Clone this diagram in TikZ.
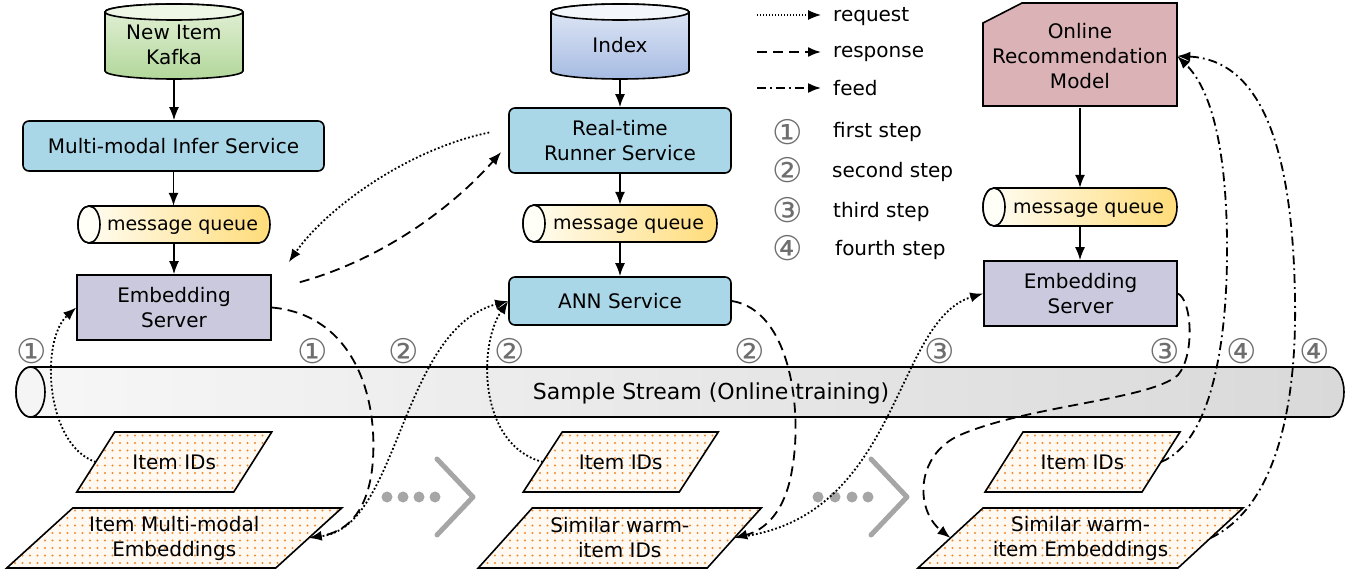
\documentclass[tikz,border=0pt]{standalone}
\usepackage{fontspec}
\setmainfont{DejaVu Sans}
\usetikzlibrary{arrows.meta,patterns.meta,calc}
\definecolor{kafkalid}{HTML}{EEF6E6}
\definecolor{kafkatop}{HTML}{E4F1D8}
\definecolor{kafkabot}{HTML}{B2D79A}
\definecolor{indexlid}{HTML}{F3F6FB}
\definecolor{indextop}{HTML}{E2E9F6}
\definecolor{indexbot}{HTML}{A6BBE2}
\definecolor{boxblue}{HTML}{AAD7E7}
\definecolor{lavender}{HTML}{CBC9DE}
\definecolor{recpink}{HTML}{DBB2B5}
\definecolor{mqleft}{HTML}{FFFEF7}
\definecolor{mqright}{HTML}{FFDC7A}
\definecolor{ssleft}{HTML}{F7F7F7}
\definecolor{ssright}{HTML}{D9D9D9}
\definecolor{sslid}{HTML}{F5F5F5}
\definecolor{paperbg}{HTML}{FFF9F2}
\definecolor{dotorange}{HTML}{F28A2E}
\definecolor{chevgray}{HTML}{A6A6A6}
\definecolor{numgray}{HTML}{6E6E6E}
% vertical cylinder: x1 x2 ytop ybot ry lidcolor topcolor bottomcolor
\newcommand\myvcyl[8]{%
  \pgfmathsetmacro\mycylcx{(#1+#2)/2}%
  \pgfmathsetmacro\mycylrx{(#2-#1)/2}%
  \path[top color=#7,bottom color=#8,draw,line width=1.6pt]
    (#1,#3+#5) -- (#1,#4-#5) arc[start angle=180,end angle=0,x radius=\mycylrx,y radius=#5]
    -- (#2,#3+#5) arc[start angle=0,end angle=-180,x radius=\mycylrx,y radius=#5] -- cycle;
  \draw[line width=1.6pt,fill=#6] (\mycylcx,#3+#5) ellipse[x radius=\mycylrx,y radius=#5];}
% horizontal cylinder: x1 x2 ytop ybot rx lidcolor leftcolor rightcolor
\newcommand\myhcyl[8]{%
  \pgfmathsetmacro\mycylcy{(#3+#4)/2}%
  \pgfmathsetmacro\mycylry{(#4-#3)/2}%
  \path[left color=#7,right color=#8,draw,line width=1.6pt]
    (#1+#5,#3) -- (#2-#5,#3) arc[start angle=-90,end angle=90,x radius=#5,y radius=\mycylry]
    -- (#1+#5,#4) arc[start angle=90,end angle=270,x radius=#5,y radius=\mycylry] -- cycle;
  \draw[line width=1.6pt,fill=#6] (#1+#5,\mycylcy) ellipse[x radius=#5,y radius=\mycylry];}
% parallelogram: name cx cy halfwidth halfskew text
\newcommand\mypara[6]{%
  \fill[paperbg] (#2-#4+#5,#3-30) -- (#2+#4+#5,#3-30) -- (#2+#4-#5,#3+30) -- (#2-#4-#5,#3+30) -- cycle;
  \path[pattern={Dots[distance=7.5pt,radius=1.1pt]},pattern color=dotorange]
    (#2-#4+#5,#3-30) -- (#2+#4+#5,#3-30) -- (#2+#4-#5,#3+30) -- (#2-#4-#5,#3+30) -- cycle;
  \draw[line width=1.6pt] (#2-#4+#5,#3-30) -- (#2+#4+#5,#3-30) -- (#2+#4-#5,#3+30) -- (#2-#4-#5,#3+30) -- cycle;
  \node (#1) at (#2,#3) {#6};
  \coordinate (#1-w) at (#2-#4,#3);
  \coordinate (#1-e) at (#2+#4,#3);}
\begin{document}
\begin{tikzpicture}[x=1pt,y=-1pt,
  every node/.style={font=\fontsize{20}{25}\selectfont, align=center, inner sep=0pt},
  svc/.style={draw, line width=1.6pt, rounded corners=6pt, fill=boxblue},
  embbox/.style={draw, line width=1.6pt, fill=lavender},
  mqtext/.style={font=\fontsize{19}{22}\selectfont, text height=14pt, text depth=2pt},
  tip/.style={-{Latex[length=13pt,width=10pt]}},
  flow/.style={line width=1.6pt, tip},
  req/.style={line width=1.8pt, dash pattern=on 1.8pt off 2.2pt, tip},
  resp/.style={line width=1.8pt, dash pattern=on 10pt off 6pt, tip},
  feed/.style={line width=1.8pt, dash pattern=on 9pt off 4pt on 1.8pt off 4pt},
  stepnum/.style={font=\fontsize{34}{34}\selectfont, text=numgray},
  legtext/.style={anchor=base west},
  chev/.style={draw=chevgray, line width=5pt, line cap=round, line join=round},
]
\useasboundingbox (0,0) rectangle (1364,578);

% ---------- cylinders ----------
\myvcyl{105}{243}{4}{79}{8}{kafkalid}{kafkatop}{kafkabot}
\node (kafka) [minimum width=138pt, minimum height=68pt] at (174,45) {\rule{0pt}{6pt}New Item\\Kafka};
\myvcyl{551}{689}{4}{79}{8}{indexlid}{indextop}{indexbot}
\node (index) [minimum width=138pt, minimum height=68pt] at (620,45) {\rule{0pt}{6pt}Index};

\myhcyl{78}{270}{206}{243}{11}{mqleft}{mqleft}{mqright}
\node (mq1) [mqtext, minimum width=192pt, minimum height=37pt] at (174,224.5) {\hspace*{17pt}message queue};
\myhcyl{523}{717}{205}{242}{11}{mqleft}{mqleft}{mqright}
\node (mq2) [mqtext, minimum width=194pt, minimum height=37pt] at (620,223.5) {\hspace*{17pt}message queue};
\myhcyl{983}{1177}{188}{226}{11}{mqleft}{mqleft}{mqright}
\node (mq3) [mqtext, minimum width=194pt, minimum height=38pt] at (1080,207) {\hspace*{17pt}message queue};

\myhcyl{16}{1344}{367}{417}{14.5}{sslid}{ssleft}{ssright}
\node (ss) [font=\fontsize{22}{26}\selectfont] at (711,393) {Sample Stream (Online training)};

% ---------- boxes ----------
\node[svc, minimum width=301pt, minimum height=50pt] (mm) at (173.5,146) {Multi-modal Infer Service};
\node[embbox, minimum width=194pt, minimum height=65pt] (emb1) at (174,307.5) {Embedding\\Server};
\node[svc, minimum width=222pt, minimum height=65pt] (rt) at (620,140.5) {Real-time\\Runner Service};
\node[svc, minimum width=222pt, minimum height=48pt] (ann) at (620,301) {ANN Service};
\node[embbox, minimum width=193pt, minimum height=65pt] (emb3) at (1080.5,293.5) {Embedding\\Server};

\filldraw[fill=recpink, line width=1.6pt] (983,23) -- (1022,3) -- (1177,3) -- (1177,106) -- (983,106) -- cycle;
\node (rec) [minimum width=194pt, minimum height=103pt] at (1080,56) {Online\\Recommendation\\Model};

% ---------- parallelograms ----------
\mypara{ids1}{174.25}{462}{78.5}{19}{Item IDs}
\mypara{emb1p}{174.25}{538}{134.5}{33}{Item Multi-modal\\Embeddings}
\mypara{ids2}{620.75}{462}{78}{19.5}{Item IDs}
\mypara{sim2}{619.75}{538}{114.5}{27}{Similar warm-\\item IDs}
\mypara{ids3}{1082.5}{462}{78.5}{19}{Item IDs}
\mypara{sim3}{1080.5}{538}{130}{32.5}{Similar warm-\\item Embeddings}

% ---------- ellipsis + chevrons ----------
\foreach \xx in {387,403,419,435}{\fill[chevgray] (\xx,497) circle[radius=5.5];}
\draw[chev] (437,459) -- (473,497) -- (437,535);
\foreach \xx in {818,835,852,868}{\fill[chevgray] (\xx,497) circle[radius=5.5];}
\draw[chev] (871,459) -- (907,497) -- (871,535);

% ---------- step markers ----------
\node[stepnum] (m1a) at (32,351) {①};
\node[stepnum] (m1b) at (313,351) {①};
\node[stepnum] (m2a) at (404,351) {②};
\node[stepnum] (m2b) at (510,351) {②};
\node[stepnum] (m2c) at (750,351) {②};
\node[stepnum] (m3a) at (940,351) {③};
\node[stepnum] (m3b) at (1165,351) {③};
\node[stepnum] (m4a) at (1242,351) {④};
\node[stepnum] (m4b) at (1315,351) {④};

% ---------- legend ----------
\node[legtext] (lreq) at (833,22) {request};
\node[legtext] (lresp) at (833,58) {response};
\node[legtext] (lfeed) at (833,95) {feed};
\coordinate (lga) at (757,15);
\coordinate (lgb) at (757,52);
\coordinate (lgc) at (757,88);
\draw[req, line width=1.4pt, dash pattern=on 1.4pt off 1.6pt, shorten >=12pt] (lga) -- (lga -| lreq.west);
\draw[resp, shorten >=12pt] (lgb) -- (lgb -| lresp.west);
\draw[feed, tip, shorten >=12pt] (lgc) -- (lgc -| lfeed.west);
\node[stepnum] (l1) at (788,132) {①};
\node[stepnum] (l2) at (788,170) {②};
\node[stepnum] (l3) at (788,210) {③};
\node[stepnum] (l4) at (788,248) {④};
\node[legtext] (lt1) at (833,137) {first step};
\node[legtext] (lt2) at (832,177) {second step};
\node[legtext] (lt3) at (833,217) {third step};
\node[legtext] (lt4) at (835,255) {fourth step};

% ---------- vertical flows ----------
\draw[flow] (kafka.south) -- (kafka.south |- mm.north);
\draw[flow] (mm.south) -- (mm.south |- mq1.north);
\draw[flow] (mq1.south) -- (emb1.north);
\draw[flow] (index.south) -- (rt.north);
\draw[flow] (rt.south) -- (mq2.north);
\draw[flow] (mq2.south) -- (ann.north);
\draw[flow] (rec.south) -- (rec.south |- mq3.north);
\draw[flow] (mq3.south) -- (mq3.south |- emb3.north);

% ---------- step connectors ----------
% step 1
\draw[req] (ids1-w) .. controls (45,445) and (40,340) .. (emb1.west);
\draw[resp] (emb1.east) .. controls (355,315) and (380,400) .. (372,470)
   .. controls (366,515) and (345,532) .. (emb1p-e);
% runner <-> embedding server
\coordinate (rtreq) at ($(rt.west)+(-19,-8)$);
\coordinate (embreq) at ($(emb1.north east)+(17,-12)$);
\coordinate (embresp) at ($(emb1.north east)+(28,8)$);
\coordinate (rtresp) at ($(rt.west)+(-7,11.5)$);
\draw[req] (rtreq) .. controls (405,150) and (325,210) .. (embreq);
\draw[resp] (embresp) .. controls (380,260) and (450,210) .. (rtresp);
% step 2
\draw[req, shorten <=14pt] (emb1p-e) .. controls (400,525) and (400,330) .. (ann.west);
\draw[req] (ids2-w) .. controls (478,445) and (478,345) .. (ann.west);
\draw[resp] (ann.east) .. controls (790,310) and (803,410) .. (792,470)
   .. controls (785,512) and (765,530) .. (sim2-e);
% step 3
\draw[req, shorten <=14pt] (sim2-e) .. controls (900,510) and (895,320) .. (emb3.west);
\draw[resp] (emb3.east) .. controls (1192,300) and (1195,355) .. (1178,375)
   .. controls (1150,400) and (1030,405) .. (960,435)
   .. controls (915,455) and (915,510) .. (sim3-w);
% step 4
\draw[feed, tip] (ids3-e) .. controls (1215,440) and (1228,330) .. (1227,240)
   .. controls (1226,150) and (1212,90) .. (rec.east);
\draw[feed, tip] (sim3-e) .. controls (1270,510) and (1297,420) .. (1295,300)
   .. controls (1293,150) and (1262,60) .. (rec.east);
\end{tikzpicture}
\end{document}
